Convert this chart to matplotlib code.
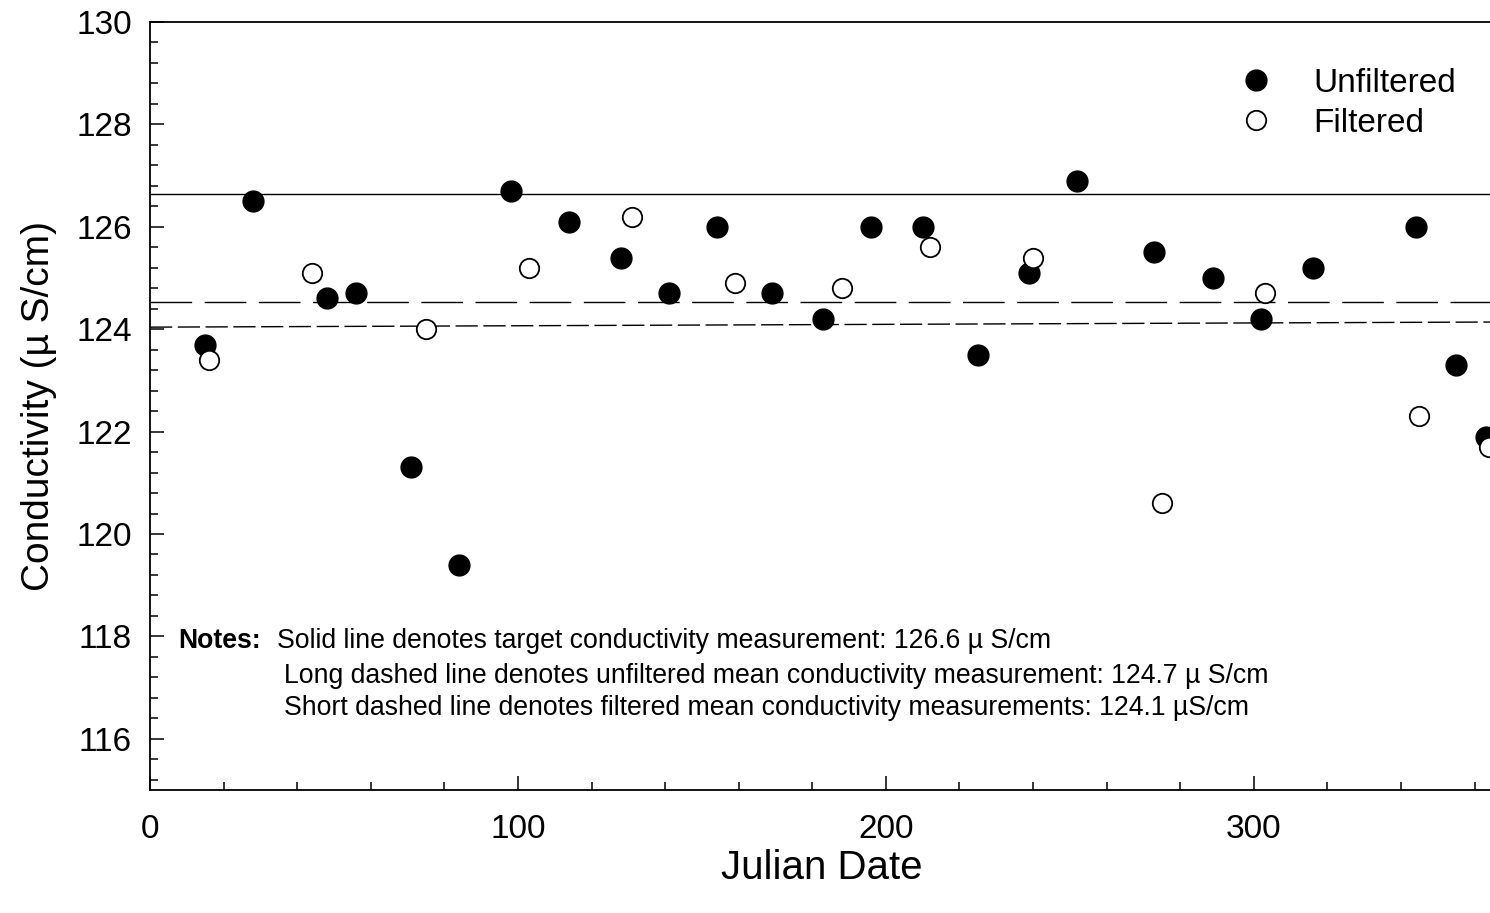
import matplotlib.pyplot as plt
from matplotlib.ticker import MultipleLocator

plt.rcParams['font.family'] = ['Liberation Sans', 'DejaVu Sans']

# unfiltered samples (julian day, conductivity)
unf_day = [15, 28, 48, 56, 71, 84, 98, 114, 128, 141, 154, 169, 183, 196,
           210, 225, 239, 252, 273, 289, 302, 316, 344, 355, 363]
unf_cond = [123.7, 126.5, 124.6, 124.7, 121.3, 119.4, 126.7, 126.1, 125.4,
            124.7, 126.0, 124.7, 124.2, 126.0, 126.0, 123.5, 125.1, 126.9,
            125.5, 125.0, 124.2, 125.2, 126.0, 123.3, 121.9]

# filtered samples
filt_day = [16, 44, 75, 103, 131, 159, 188, 212, 240, 275, 303, 345, 364]
filt_cond = [123.4, 125.1, 124.0, 125.2, 126.2, 124.9, 124.8, 125.6, 125.4,
             120.6, 124.7, 122.3, 121.7]

target = 126.65
unf_mean = 124.54
filt_line_x = [0, 365]
filt_line_y = [124.04, 124.14]

notes = [
    "Solid line denotes target conductivity measurement: 126.6 \u00b5 S/cm",
    "Long dashed line denotes unfiltered mean conductivity measurement: 124.7 \u00b5 S/cm",
    "Short dashed line denotes filtered mean conductivity measurements: 124.1 \u00b5S/cm",
]

fig = plt.figure(figsize=(14.9, 9.13), dpi=100)
ax = fig.add_axes([150 / 1490, 123 / 913, 1343 / 1490, 768 / 913])

ax.axhline(target, color='black', lw=1.0)
ax.axhline(unf_mean, color='black', lw=1.0, dashes=(30, 9))
ax.plot(filt_line_x, filt_line_y, color='black', lw=1.0, dashes=(16, 4))

ax.plot(unf_day, unf_cond, 'o', color='black', ms=15, label='Unfiltered',
        clip_on=False, zorder=3)
ax.plot(filt_day, filt_cond, 'o', mfc='white', mec='black', mew=1.3, ms=14,
        label='Filtered', clip_on=False, zorder=4)

ax.set_xlim(0, 365)
ax.set_ylim(115, 130)
ax.xaxis.set_major_locator(MultipleLocator(100))
ax.xaxis.set_minor_locator(MultipleLocator(20))
ax.yaxis.set_major_locator(MultipleLocator(2))
ax.yaxis.set_minor_locator(MultipleLocator(0.4))
ax.tick_params(which='both', direction='in', top=False, right=False,
               labelsize=24, width=1.1)
ax.tick_params(which='major', length=10)
ax.tick_params(which='minor', length=6)
ax.tick_params(axis='x', which='major', pad=17)
ax.tick_params(axis='y', which='major', pad=13)
for s in ax.spines.values():
    s.set_linewidth(1.3)
ax.spines['right'].set_visible(False)

ax.set_xlabel('Julian Date', fontsize=29, labelpad=3)
ax.set_ylabel('Conductivity (\u00b5 S/cm)', fontsize=28, labelpad=14)

ax.legend(loc='upper left', bbox_to_anchor=(1193 / 1490, 875 / 913),
          bbox_transform=fig.transFigure, frameon=False, numpoints=1,
          fontsize=24, handlelength=2.0, handletextpad=0.7,
          labelspacing=0.27, borderpad=0.4)

ax.text(28 / 1343, 1 - (641 - 22) / 768, 'Notes:', transform=ax.transAxes,
        fontsize=19.2, fontweight='bold', va='center')
ax.text(127 / 1343, 1 - (641 - 22) / 768, notes[0], transform=ax.transAxes,
        fontsize=19.2, va='center')
for i, line in enumerate(notes[1:]):
    ax.text(134 / 1343, 1 - (676 + 32 * i - 22) / 768, line,
            transform=ax.transAxes, fontsize=19.2, va='center')

fig.savefig('out.png', dpi=100)
